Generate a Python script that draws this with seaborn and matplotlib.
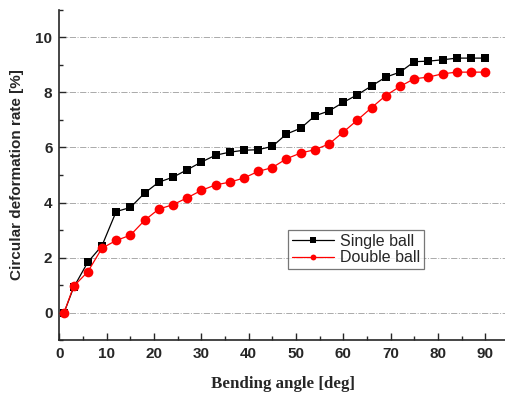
import matplotlib
matplotlib.use("Agg")
import matplotlib.pyplot as plt
import seaborn as sns
import pandas as pd
from matplotlib.ticker import MultipleLocator

angles = [1, 3, 6, 9, 12, 15, 18, 21, 24, 27, 30, 33, 36, 39, 42, 45, 48, 51,
          54, 57, 60, 63, 66, 69, 72, 75, 78, 81, 84, 87, 90]
single_ball = [0.0, 0.91, 1.83, 2.43, 3.67, 3.82, 4.34, 4.74, 4.92, 5.19, 5.47,
               5.72, 5.83, 5.90, 5.92, 6.04, 6.49, 6.70, 7.15, 7.33, 7.64, 7.92,
               8.24, 8.56, 8.74, 9.12, 9.14, 9.19, 9.25, 9.25, 9.25]
double_ball = [0.0, 0.95, 1.48, 2.34, 2.62, 2.81, 3.35, 3.76, 3.92, 4.17, 4.44,
               4.64, 4.74, 4.89, 5.13, 5.27, 5.59, 5.80, 5.92, 6.13, 6.56, 7.00,
               7.45, 7.89, 8.22, 8.50, 8.56, 8.68, 8.74, 8.74, 8.74]
series_names = ["Single ball", "Double ball"]

sns.set_style("ticks")
plt.rcParams['font.family'] = ['Liberation Sans', 'DejaVu Sans']

fig = plt.figure(figsize=(5.06, 3.98), dpi=100)
ax = fig.add_axes([0.1174, 0.1457, 0.8826, 0.8292])

df1 = pd.DataFrame({"x": angles, "y": single_ball})
df2 = pd.DataFrame({"x": angles, "y": double_ball})
sns.lineplot(data=df1, x="x", y="y", ax=ax, color="black", marker="s",
             markersize=6.3, markeredgewidth=0, linewidth=0.9,
             label=series_names[0], zorder=3)
sns.lineplot(data=df2, x="x", y="y", ax=ax, color="#ff0000", marker="o",
             markersize=7, markeredgewidth=0, linewidth=0.9,
             label=series_names[1], zorder=4)

ax.set_xlim(0, 94.4)
ax.set_ylim(-1, 11)
ax.xaxis.set_major_locator(MultipleLocator(10))
ax.xaxis.set_minor_locator(MultipleLocator(5))
ax.yaxis.set_major_locator(MultipleLocator(2))
ax.yaxis.set_minor_locator(MultipleLocator(1))
ax.tick_params(which="major", direction="in", length=5, width=1,
               labelsize=11, pad=5)
ax.tick_params(which="minor", direction="in", length=3, width=1)
for lab in ax.get_xticklabels() + ax.get_yticklabels():
    lab.set_fontweight("bold")
ax.grid(axis="y", which="major", color="#aaaaaa", linestyle="-.",
        linewidth=0.7)
ax.grid(axis="x", visible=False)
for s in ["top", "right"]:
    ax.spines[s].set_visible(False)
for s in ["left", "bottom"]:
    ax.spines[s].set_linewidth(1.2)

ax.set_xlabel("Bending angle [deg]", fontsize=12.2, fontweight="bold",
              family="Liberation Serif", labelpad=11)
ax.set_ylabel("Circular deformation rate [%]", fontsize=11,
              fontweight="bold", family="Liberation Sans", labelpad=8)

leg = ax.legend(loc="lower left", bbox_to_anchor=(0.512, 0.214),
                fontsize=11.5, frameon=True, fancybox=False, edgecolor="#555555",
                handlelength=2.6, borderpad=0.25, labelspacing=0.1,
                handletextpad=0.4, borderaxespad=0, markerscale=0.6)
leg.get_frame().set_linewidth(0.9)

fig.savefig("out.png", dpi=100)
